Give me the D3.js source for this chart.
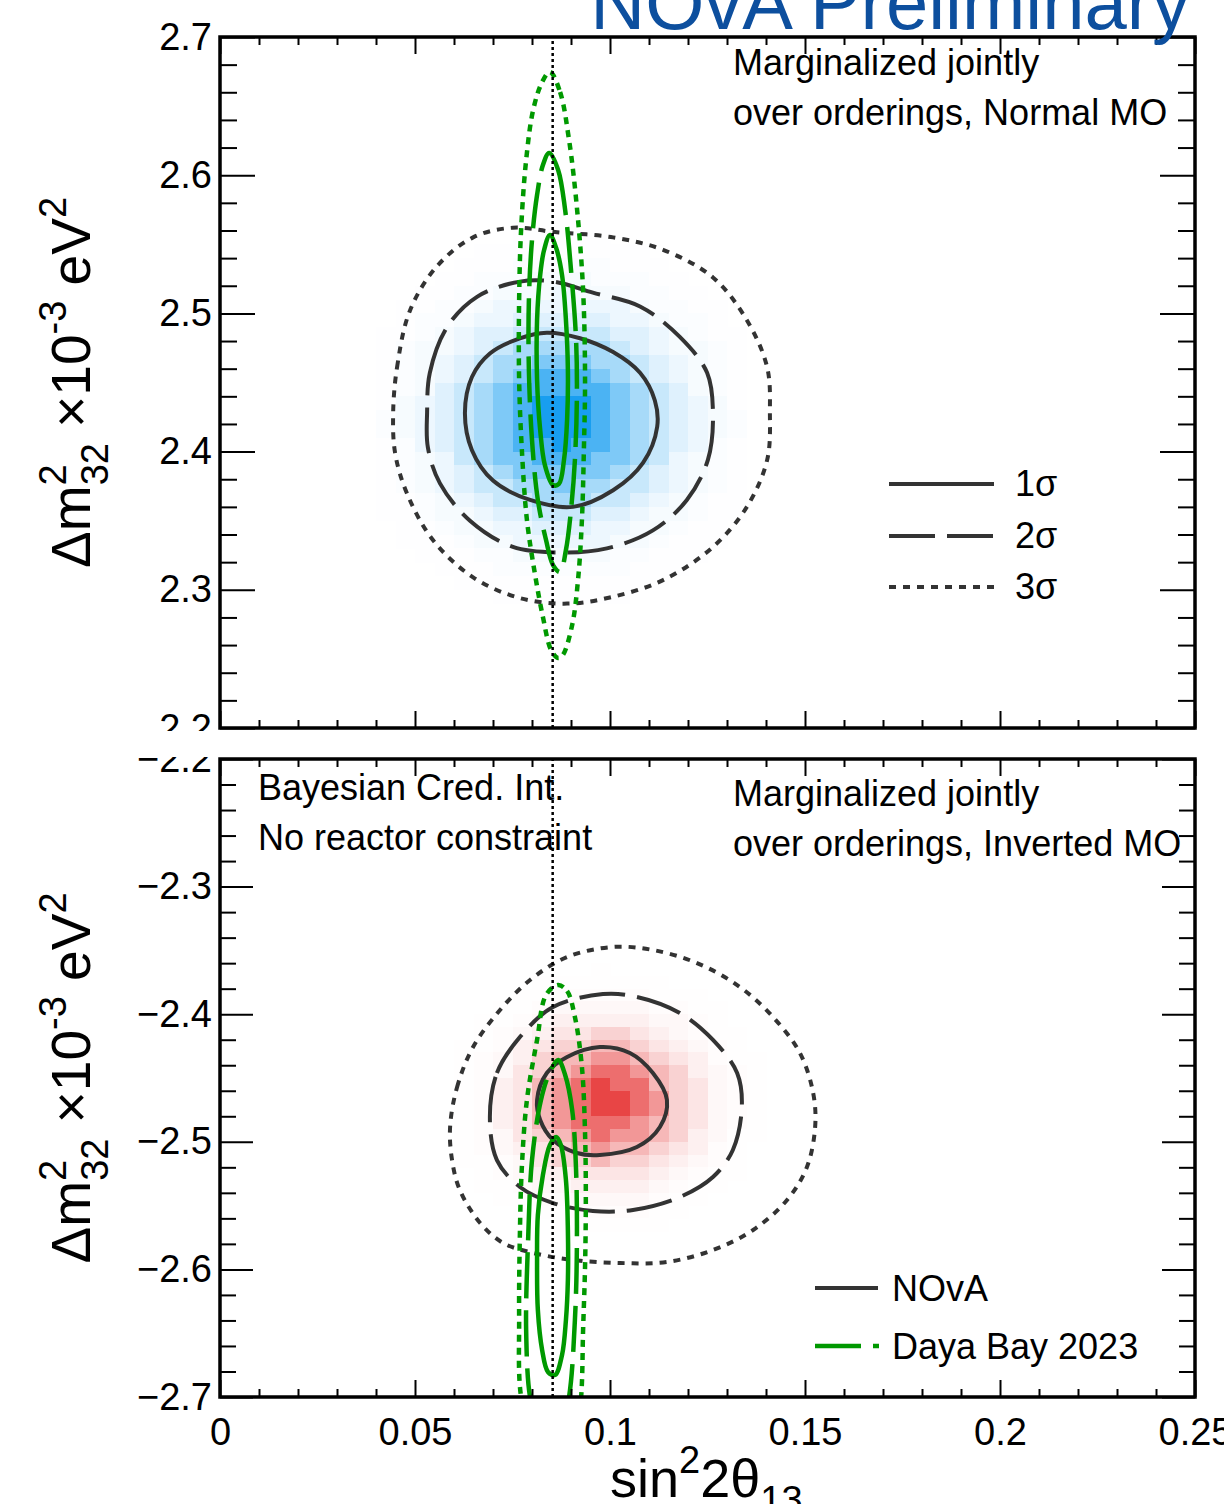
<!DOCTYPE html>
<html><head><meta charset="utf-8">
<script src="https://cdn.jsdelivr.net/npm/d3@7"></script>
<style>
body{margin:0;background:#fff}
svg{display:block}
text{font-family:"Liberation Sans",Arial,Helvetica,sans-serif}
</style>
</head><body>
<svg id="chart" width="1224" height="1504"></svg>
<script>
// ---------------- data ----------------
const xDomain = [0, 0.25];
const topYDomain = [2.2, 2.7];
const botYDomain = [-2.7, -2.2];
const xMajorTicks = [0, 0.05, 0.1, 0.15, 0.2, 0.25];
const xTickLabels = ["0", "0.05", "0.1", "0.15", "0.2", "0.25"];
const topYMajorTicks = [2.2, 2.3, 2.4, 2.5, 2.6, 2.7];
const topYTickLabels = ["2.2", "2.3", "2.4", "2.5", "2.6", "2.7"];
const botYMajorTicks = [-2.7, -2.6, -2.5, -2.4, -2.3, -2.2];
const botYTickLabels = ["\u22122.7", "\u22122.6", "\u22122.5", "\u22122.4", "\u22122.3", "\u22122.2"];
const dayaBayBestFit = 0.0853;

// heat-map bins: level characters 0..A, intensity per level
const heatLevels = [0, 0.006, 0.018, 0.04, 0.08, 0.14, 0.24, 0.38, 0.56, 0.78, 1.0];
const heatBinX = 0.005, heatBinY = 0.01;
// Normal MO posterior (rows from 2.56 downward, columns from 0.040)
const topHeatX0 = 0.04, topHeatYTop = 2.56;
const topHeatRows = [
  "0000000111110000000",
  "0000011111111100000",
  "0000111222221110000",
  "0001122233322211000",
  "0011223334333221100",
  "0112234444444322110",
  "0122344555554432210",
  "1123455666665543211",
  "1233456777776543321",
  "1234567788877654321",
  "1234567899987654321",
  "1235678999998765321",
  "13456789AAA98765431",
  "23456789AAA98765432",
  "23456789AAA98765432",
  "124567899A998765421",
  "1234678899988764321",
  "1234567888887654321",
  "1234566778776654321",
  "1123456677766543211",
  "1123345566655433211",
  "0112334455544332110",
  "0111233444443321110",
  "0011122333332211100",
  "0001112222222111000",
  "0000111111111110000",
  "0000001111111000000"
];
// Inverted MO posterior (rows from -2.36 downward, columns from 0.055)
const botHeatX0 = 0.055, botHeatYTop = -2.36;
const botHeatRows = [
  "000000001000000000",
  "000001111111000000",
  "000011222221110000",
  "000112333332211000",
  "001123444443321000",
  "001234556654321100",
  "011245667765432100",
  "012346778876542110",
  "012356789987643210",
  "01245789A997653210",
  "01245789AA98653210",
  "01245789AA98653210",
  "012457899987653210",
  "012356789887643110",
  "012345678776542100",
  "011235667665432100",
  "001234455554321100",
  "001123344443211000",
  "000112233332110000",
  "000011122221100000",
  "000000111111000000"
];

// NOvA contours, Normal MO
const novaNO1 = [[0.0628,2.428],[0.0646,2.454],[0.0692,2.471],[0.0769,2.482],[0.0838,2.486],[0.0923,2.482],[0.1008,2.472],[0.1077,2.457],[0.1115,2.437],[0.1121,2.418],[0.1085,2.392],[0.1008,2.372],[0.0905,2.360],[0.0795,2.365],[0.0700,2.379],[0.0646,2.401]];
const novaNO2 = [[0.0531,2.428],[0.0538,2.457],[0.0582,2.490],[0.0659,2.512],[0.0769,2.523],[0.0854,2.523],[0.0956,2.515],[0.1077,2.505],[0.1179,2.483],[0.1249,2.457],[0.1264,2.428],[0.1251,2.394],[0.1197,2.365],[0.1110,2.343],[0.0992,2.330],[0.0872,2.327],[0.0751,2.331],[0.0641,2.350],[0.0564,2.377],[0.0533,2.403]];
const novaNO3 = [[0.0444,2.428],[0.0454,2.461],[0.0487,2.502],[0.0556,2.534],[0.0649,2.555],[0.0751,2.562],[0.0854,2.559],[0.1008,2.555],[0.1136,2.546],[0.1264,2.526],[0.1351,2.495],[0.1403,2.461],[0.1410,2.428],[0.1403,2.394],[0.1351,2.360],[0.1264,2.331],[0.1136,2.307],[0.1008,2.295],[0.0890,2.290],[0.0769,2.294],[0.0649,2.309],[0.0546,2.336],[0.0479,2.370],[0.0449,2.399]];
// Daya Bay contours, Normal MO
const dybNO1 = [[0.0846,2.5567],[0.0862,2.5473],[0.0877,2.5278],[0.0887,2.4952],[0.0892,2.4590],[0.0890,2.4229],[0.0882,2.3939],[0.0869,2.3766],[0.0854,2.3758],[0.0833,2.3903],[0.0821,2.4156],[0.0813,2.4518],[0.0813,2.4952],[0.0821,2.5278],[0.0831,2.5459]];
const dybNO2 = [[0.0844,2.6161],[0.0867,2.6038],[0.0885,2.5748],[0.0900,2.5314],[0.0913,2.4808],[0.0915,2.4373],[0.0910,2.3939],[0.0900,2.3577],[0.0887,2.3288],[0.0872,2.3129],[0.0854,2.3179],[0.0836,2.3360],[0.0815,2.3650],[0.0800,2.4084],[0.0792,2.4590],[0.0792,2.5097],[0.0800,2.5531],[0.0813,2.5857],[0.0828,2.6074]];
const dybNO3 = [[0.0846,2.6747],[0.0872,2.6602],[0.0895,2.6255],[0.0915,2.5770],[0.0931,2.5169],[0.0936,2.4518],[0.0933,2.4012],[0.0928,2.3505],[0.0918,2.3071],[0.0903,2.2745],[0.0879,2.2528],[0.0867,2.2506],[0.0849,2.2564],[0.0828,2.2803],[0.0808,2.3107],[0.0787,2.3505],[0.0774,2.4012],[0.0767,2.4518],[0.0767,2.5097],[0.0772,2.5603],[0.0785,2.6110],[0.0803,2.6472],[0.0826,2.6674]];
// NOvA contours, Inverted MO
const novaIO1 = [[0.0813,-2.4672],[0.0838,-2.4461],[0.0890,-2.4335],[0.0974,-2.4257],[0.1051,-2.4304],[0.1110,-2.4461],[0.1146,-2.4672],[0.1128,-2.4884],[0.1069,-2.5041],[0.0974,-2.5103],[0.0915,-2.5088],[0.0854,-2.4986],[0.0821,-2.4829]];
const novaIO2 = [[0.0692,-2.4806],[0.0710,-2.4461],[0.0769,-2.4179],[0.0854,-2.3944],[0.0982,-2.3842],[0.1069,-2.3865],[0.1179,-2.3991],[0.1264,-2.4202],[0.1326,-2.4461],[0.1338,-2.4727],[0.1315,-2.5064],[0.1264,-2.5276],[0.1179,-2.5433],[0.1059,-2.5534],[0.0956,-2.5542],[0.0854,-2.5480],[0.0769,-2.5354],[0.0710,-2.5143]];
const novaIO3 = [[0.0590,-2.4884],[0.0608,-2.4571],[0.0649,-2.4257],[0.0718,-2.3967],[0.0795,-2.3732],[0.0890,-2.3552],[0.1008,-2.3473],[0.1110,-2.3497],[0.1223,-2.3599],[0.1333,-2.3787],[0.1418,-2.4022],[0.1487,-2.4304],[0.1521,-2.4618],[0.1526,-2.4884],[0.1505,-2.5197],[0.1454,-2.5456],[0.1367,-2.5691],[0.1264,-2.5848],[0.1146,-2.5942],[0.1026,-2.5950],[0.0905,-2.5926],[0.0803,-2.5871],[0.0726,-2.5793],[0.0667,-2.5636],[0.0615,-2.5378],[0.0595,-2.5143]];
// Daya Bay contours, Inverted MO
const dybIO1 = [[0.0862,-2.4962],[0.0874,-2.5025],[0.0887,-2.5299],[0.0892,-2.5691],[0.0892,-2.6083],[0.0887,-2.6397],[0.0877,-2.6671],[0.0859,-2.6828],[0.0841,-2.6804],[0.0826,-2.6632],[0.0815,-2.6318],[0.0813,-2.5926],[0.0815,-2.5574],[0.0828,-2.5260],[0.0846,-2.5025]];
const dybIO2 = [[0.0867,-2.4359],[0.0885,-2.4476],[0.0903,-2.4751],[0.0913,-2.5221],[0.0915,-2.5848],[0.0910,-2.6397],[0.0895,-2.7000],[0.0872,-2.7298],[0.0846,-2.7337],[0.0815,-2.7219],[0.0795,-2.7000],[0.0785,-2.6475],[0.0790,-2.5770],[0.0800,-2.5143],[0.0823,-2.4672],[0.0846,-2.4453]];
const dybIO3 = [[0.0867,-2.3771],[0.0890,-2.3818],[0.0910,-2.4022],[0.0928,-2.4414],[0.0936,-2.4931],[0.0938,-2.5456],[0.0936,-2.5981],[0.0931,-2.6475],[0.0926,-2.7000],[0.0910,-2.7415],[0.0859,-2.7729],[0.0808,-2.7415],[0.0772,-2.7000],[0.0767,-2.6373],[0.0769,-2.5715],[0.0774,-2.5197],[0.0787,-2.4672],[0.0813,-2.4202],[0.0836,-2.3850]];

const legendSigma = ["1\u03C3", "2\u03C3", "3\u03C3"];
const legendExperiments = ["NOvA", "Daya Bay 2023"];

// ---------------- styles ----------------
const NOVA_COLOR = "#333333", DYB_COLOR = "#009900";
const novaDash = [null, "46,12", "7,7"];
const dybDash = [null, "46,12", "7,6"];

const svg = d3.select("#chart");
const FONT = '"Liberation Sans",Arial,Helvetica,sans-serif';
const xScale = d3.scaleLinear().domain(xDomain).range([220, 1195]);

const defs = svg.append("defs");
function addClip(id, x0, y0, w, h) {
  defs.append("clipPath").attr("id", id).append("rect").attr("x", x0).attr("y", y0).attr("width", w).attr("height", h);
}
addClip("padTop", 0, 0, 1224, 731);
addClip("padBot", 0, 757, 1224, 747);
addClip("frameTop", 220, 37, 975, 691);
addClip("frameBot", 220, 759, 975, 638);

const xMinor = d3.range(0, 0.2501, 0.01).filter(v => Math.abs(v * 20 - Math.round(v * 20)) > 1e-6);

function drawPanel(cfg) {
  const x = xScale;
  const y = d3.scaleLinear().domain(cfg.yDomain).range(cfg.yRange);
  const pad = svg.append("g").attr("clip-path", `url(#${cfg.padClip})`);
  const plot = pad.append("g").attr("clip-path", `url(#${cfg.frameClip})`);

  // heat map
  const col = d3.interpolateRgb("#ffffff", cfg.heatColor);
  const cells = [];
  cfg.heatRows.forEach((row, r) => {
    row.split("").forEach((ch, c) => {
      const lvl = parseInt(ch, 16);
      if (lvl > 0) cells.push({x0: cfg.heatX0 + c * heatBinX, y1: cfg.heatYTop - r * heatBinY, v: heatLevels[lvl]});
    });
  });
  plot.append("g").selectAll("rect").data(cells).join("rect")
    .attr("x", d => x(d.x0))
    .attr("y", d => y(d.y1))
    .attr("width", d => x(d.x0 + heatBinX) - x(d.x0) + 0.5)
    .attr("height", d => y(d.y1 - heatBinY) - y(d.y1) + 0.5)
    .attr("fill", d => col(d.v))
    .attr("shape-rendering", "crispEdges");

  const line = d3.line().x(d => x(d[0])).y(d => y(d[1])).curve(d3.curveCatmullRomClosed.alpha(0.5));
  cfg.nova.forEach((pts, i) => {
    plot.append("path").attr("d", line(pts)).attr("fill", "none")
      .attr("stroke", NOVA_COLOR).attr("stroke-width", 4)
      .attr("stroke-dasharray", novaDash[i]);
  });
  cfg.dyb.forEach((pts, i) => {
    plot.append("path").attr("d", line(pts)).attr("fill", "none")
      .attr("stroke", DYB_COLOR).attr("stroke-width", 4.5)
      .attr("stroke-dasharray", dybDash[i]);
  });
  // Daya Bay best fit line
  plot.append("line")
    .attr("x1", x(dayaBayBestFit)).attr("x2", x(dayaBayBestFit))
    .attr("y1", y(cfg.yDomain[0])).attr("y2", y(cfg.yDomain[1]))
    .attr("stroke", "#000").attr("stroke-width", 2.5).attr("stroke-dasharray", "3,3");

  // axes
  const axes = pad.append("g");
  const yMinor = d3.range(cfg.yDomain[0], cfg.yDomain[1] + 1e-6, 0.02)
    .filter(v => Math.abs(v * 10 - Math.round(v * 10)) > 1e-6);
  const yB = y.range()[0], yT = y.range()[1];
  function add(axis, tx, ty) {
    const g = axes.append("g").attr("transform", `translate(${tx},${ty})`).call(axis);
    g.select(".domain").remove();
    g.selectAll(".tick line").attr("stroke", "#000").attr("stroke-width", 2);
    g.selectAll("text").attr("fill", "#000").attr("font-size", 38).attr("font-family", FONT);
    return g;
  }
  add(d3.axisBottom(x).tickValues(xMajorTicks).tickSize(-17).tickPadding(21)
      .tickFormat((d, i) => cfg.xLabels ? xTickLabels[i] : ""), 0, yB);
  add(d3.axisBottom(x).tickValues(xMinor).tickSize(-8).tickFormat(""), 0, yB);
  add(d3.axisTop(x).tickValues(xMajorTicks).tickSize(-17).tickFormat(""), 0, yT);
  add(d3.axisTop(x).tickValues(xMinor).tickSize(-8).tickFormat(""), 0, yT);
  add(d3.axisLeft(y).tickValues(cfg.yTicks).tickSize(-cfg.majLen).tickPadding(8)
      .tickFormat((d, i) => cfg.yLabels[i]), 220, 0);
  add(d3.axisLeft(y).tickValues(yMinor).tickSize(-cfg.minLen).tickFormat(""), 220, 0);
  add(d3.axisRight(y).tickValues(cfg.yTicks).tickSize(-cfg.majLen).tickFormat(""), 1195, 0);
  add(d3.axisRight(y).tickValues(yMinor).tickSize(-cfg.minLen).tickFormat(""), 1195, 0);

  axes.append("rect").attr("x", 220).attr("y", yT).attr("width", 975).attr("height", yB - yT)
    .attr("fill", "none").attr("stroke", "#000").attr("stroke-width", 3.5);

  // y-axis title
  const cy = (yT + yB) / 2;
  const t = pad.append("text").attr("transform", `translate(90,${cy}) rotate(-90)`)
    .attr("text-anchor", "middle").attr("font-size", 55).attr("fill", "#000");
  t.append("tspan").text("\u0394m");
  t.append("tspan").attr("font-size", 38).attr("dy", -24).text("2");
  t.append("tspan").attr("font-size", 38).attr("dx", -21).attr("dy", 42).text("32");
  t.append("tspan").attr("dy", -18).text(" \u00D710");
  t.append("tspan").attr("font-size", 38).attr("dy", -24).text("-3");
  t.append("tspan").attr("dy", 24).text(" eV");
  t.append("tspan").attr("font-size", 38).attr("dy", -24).text("2");
  return {y, pad};
}

const topPanel = drawPanel({
  yDomain: topYDomain, yRange: [728, 37], padClip: "padTop", frameClip: "frameTop",
  heatRows: topHeatRows, heatX0: topHeatX0, heatYTop: topHeatYTop, heatColor: "#189ef0",
  nova: [novaNO1, novaNO2, novaNO3], dyb: [dybNO1, dybNO2, dybNO3],
  yTicks: topYMajorTicks, yLabels: topYTickLabels, xLabels: false, majLen: 35, minLen: 17
});
const botPanel = drawPanel({
  yDomain: botYDomain, yRange: [1397, 759], padClip: "padBot", frameClip: "frameBot",
  heatRows: botHeatRows, heatX0: botHeatX0, heatYTop: botHeatYTop, heatColor: "#e84545",
  nova: [novaIO1, novaIO2, novaIO3], dyb: [dybIO1, dybIO2, dybIO3],
  yTicks: botYMajorTicks, yLabels: botYTickLabels, xLabels: true, majLen: 33, minLen: 16
});

// annotations
function label(g, txt, x0, y0, size, anchor) {
  return g.append("text").attr("x", x0).attr("y", y0).attr("font-size", size)
    .attr("text-anchor", anchor || "start").attr("fill", "#000").text(txt);
}
label(topPanel.pad, "Marginalized jointly", 733, 75, 36);
label(topPanel.pad, "over orderings, Normal MO", 733, 125, 36);
label(botPanel.pad, "Marginalized jointly", 733, 806, 36);
label(botPanel.pad, "over orderings, Inverted MO", 733, 856, 36);
label(botPanel.pad, "Bayesian Cred. Int.", 258, 800, 36);
label(botPanel.pad, "No reactor constraint", 258, 850, 36);

// top legend (contour levels)
const legY = [484, 536, 587];
legendSigma.forEach((s, i) => {
  topPanel.pad.append("line").attr("x1", 889).attr("x2", 994).attr("y1", legY[i]).attr("y2", legY[i])
    .attr("stroke", NOVA_COLOR).attr("stroke-width", 4).attr("stroke-dasharray", novaDash[i]);
  label(topPanel.pad, s, 1015, legY[i] + 12, 36);
});
// bottom legend (experiments)
const legY2 = [1288, 1346];
botPanel.pad.append("line").attr("x1", 815).attr("x2", 878).attr("y1", legY2[0]).attr("y2", legY2[0])
  .attr("stroke", NOVA_COLOR).attr("stroke-width", 4);
botPanel.pad.append("line").attr("x1", 815).attr("x2", 879).attr("y1", legY2[1]).attr("y2", legY2[1])
  .attr("stroke", DYB_COLOR).attr("stroke-width", 4.5).attr("stroke-dasharray", "46,12");
label(botPanel.pad, legendExperiments[0], 892, legY2[0] + 13, 36);
label(botPanel.pad, legendExperiments[1], 892, legY2[1] + 13, 36);

// title
svg.append("text").attr("x", 1190).attr("y", 29).attr("text-anchor", "end")
  .attr("font-size", 76).attr("fill", "#0d4f9e").text("NOvA Preliminary");

// x-axis title
const xt = svg.append("text").attr("x", 610).attr("y", 1497).attr("font-size", 54).attr("fill", "#000");
xt.append("tspan").text("sin");
xt.append("tspan").attr("font-size", 38).attr("dy", -24).text("2");
xt.append("tspan").attr("dy", 24).text("2\u03B8");
xt.append("tspan").attr("font-size", 38).attr("dy", 16).text("13");
</script>
</body></html>
